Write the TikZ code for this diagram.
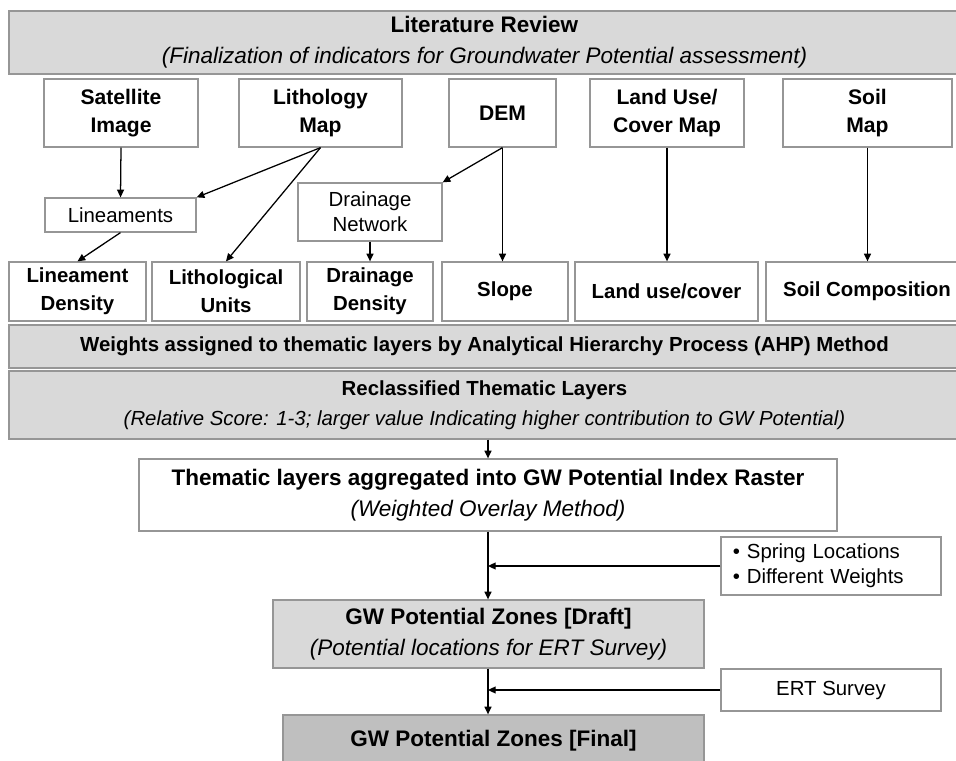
\documentclass[tikz,border=0pt]{standalone}
\usepackage{fontspec}
\setmainfont{Liberation Sans}
\usepackage{xcolor}
\usetikzlibrary{arrows.meta,calc}
\definecolor{BoxLine}{RGB}{150,150,150}
\definecolor{BandGray}{RGB}{217,217,217}
\definecolor{FinalGray}{RGB}{191,191,191}

\begin{document}
\begin{tikzpicture}[
  x=0.025cm, y=-0.025cm,
  font=\fontsize{14.5}{20}\selectfont,
  gbox/.style={draw=BoxLine, line width=0.9pt, fill=#1, align=center,
               inner sep=1pt},
  gbox/.default=white,
  arr/.style={-{Triangle[length=5.5pt,width=5pt]}, line width=0.9pt},
]
  \useasboundingbox (0,0) rectangle (956,761);

  % review band
  \node[gbox=BandGray, minimum width=23.775cm, minimum height=1.575cm,
        font=\fontsize{16}{22}\selectfont] (lit) at (484.5,42.5)
        {\textbf{Literature Review}\\\textit{(Finalization of indicators for Groundwater Potential assessment)}};

  % input data
  \node[gbox, minimum width=3.85cm, minimum height=1.7cm, font=\bfseries\fontsize{15}{20}\selectfont] (sat) at (121,113) {Satellite\\Image};
  \node[gbox, minimum width=4.075cm, minimum height=1.7cm, font=\bfseries\fontsize{15}{20}\selectfont] (lith) at (320.5,113) {Lithology\\Map};
  \node[gbox, minimum width=2.675cm, minimum height=1.7cm, font=\bfseries\fontsize{15}{20}\selectfont] (dem) at (502.5,113) {DEM};
  \node[gbox, minimum width=3.85cm, minimum height=1.7cm, font=\bfseries\fontsize{15}{20}\selectfont] (luc) at (667,113) {Land Use/\\Cover Map};
  \node[gbox, minimum width=4.225cm, minimum height=1.7cm, font=\bfseries\fontsize{15}{20}\selectfont] (soil) at (867.5,113) {Soil\\Map};

  % derived
  \node[gbox, minimum width=3.775cm, minimum height=0.85cm] (lin) at (120.5,215) {Lineaments};
  \node[gbox, minimum width=3.6cm, minimum height=1.45cm, font=\fontsize{14.5}{18}\selectfont] (dnet) at (370,212) {Drainage\\Network};

  % thematic layers
  \node[gbox, minimum width=3.425cm, minimum height=1.475cm, font=\bfseries\fontsize{14.5}{20}\selectfont] (lind) at (77.5,291.5) {Lineament\\Density};
  \node[gbox, minimum width=3.7cm, minimum height=1.475cm, font=\bfseries\fontsize{14.5}{20}\selectfont] (lithu) at (226,291.5) {Lithological\\Units};
  \node[gbox, minimum width=3.15cm, minimum height=1.475cm, font=\bfseries\fontsize{14.5}{20}\selectfont] (dd) at (370,291.5) {Drainage\\Density};
  \node[gbox, minimum width=3.15cm, minimum height=1.475cm, font=\bfseries\fontsize{14.5}{20}\selectfont] (slope) at (505,291.5) {Slope};
  \node[gbox, minimum width=4.575cm, minimum height=1.475cm, font=\bfseries\fontsize{14.5}{20}\selectfont] (lu) at (666.5,291.5) {Land use/cover};
  \node[gbox, minimum width=5.05cm, minimum height=1.475cm, font=\bfseries\fontsize{14.5}{20}\selectfont] (sc) at (867,291.5) {Soil Composition};

  % weighting
  \node[gbox=BandGray, minimum width=23.775cm, minimum height=1.075cm, font=\bfseries\fontsize{14.5}{20}\selectfont] (ahp) at (484.5,346.5)
        {Weights assigned to thematic layers by Analytical Hierarchy Process (AHP) Method};
  \node[gbox=BandGray, minimum width=23.775cm, minimum height=1.7cm, font=\fontsize{14.5}{21}\selectfont] (recl) at (484.5,405)
        {\textbf{Reclassified Thematic Layers}\\\textit{(Relative Score: 1-3; larger value Indicating higher contribution to GW Potential)}};

  % overlay and zones
  \node[gbox, minimum width=17.45cm, minimum height=1.8cm, font=\fontsize{16}{22}\selectfont] (agg) at (488,495)
        {\textbf{Thematic layers aggregated into GW Potential Index Raster}\\\textit{(Weighted Overlay Method)}};
  \node[gbox, minimum width=5.5cm, minimum height=1.45cm, text width=4.9cm, align=left, font=\fontsize{14.5}{18}\selectfont] (spring) at (831,566)
        {• Spring Locations\\• Different Weights};
  \node[gbox=BandGray, minimum width=10.775cm, minimum height=1.7cm, font=\fontsize{16}{22}\selectfont] (draft) at (488.5,634)
        {\textbf{GW Potential Zones [Draft]}\\\textit{(Potential locations for ERT Survey)}};
  \node[gbox, minimum width=5.5cm, minimum height=1.05cm] (ert) at (831,690) {ERT Survey};
  \node[gbox=FinalGray, minimum width=10.525cm, minimum height=1.3cm, font=\bfseries\fontsize{16}{20}\selectfont] (final) at (493.5,741)
        {GW Potential Zones [Final]};

  % connectors
  \draw[arr] (sat.south) -- (lin.north);
  \draw[arr] (lith.south) -- (lin.north east);
  \draw[arr] (lith.south) -- (lithu.north);
  \draw[arr] (lin.south) -- (lind.north);
  \draw[arr] (dem.south) -- (dnet.north east);
  \draw[arr] (dem.south) -- (dem.south |- slope.north);
  \draw[arr] (dnet.south) -- (dnet.south |- dd.north);
  \draw[arr] (luc.south) -- (luc.south |- lu.north);
  \draw[arr] (soil.south) -- (soil.south |- sc.north);

  \draw[arr] (agg.north |- recl.south) -- (agg.north);
  \draw[arr] (agg.south) -- (agg.south |- draft.north);
  \coordinate (j1) at (agg.south |- spring.west);
  \draw[arr] (spring.west) -- (j1);
  \draw[arr] (draft.south -| agg.south) -- (agg.south |- final.north);
  \coordinate (j2) at (agg.south |- ert.west);
  \draw[arr] (ert.west) -- (j2);
\end{tikzpicture}
\end{document}
